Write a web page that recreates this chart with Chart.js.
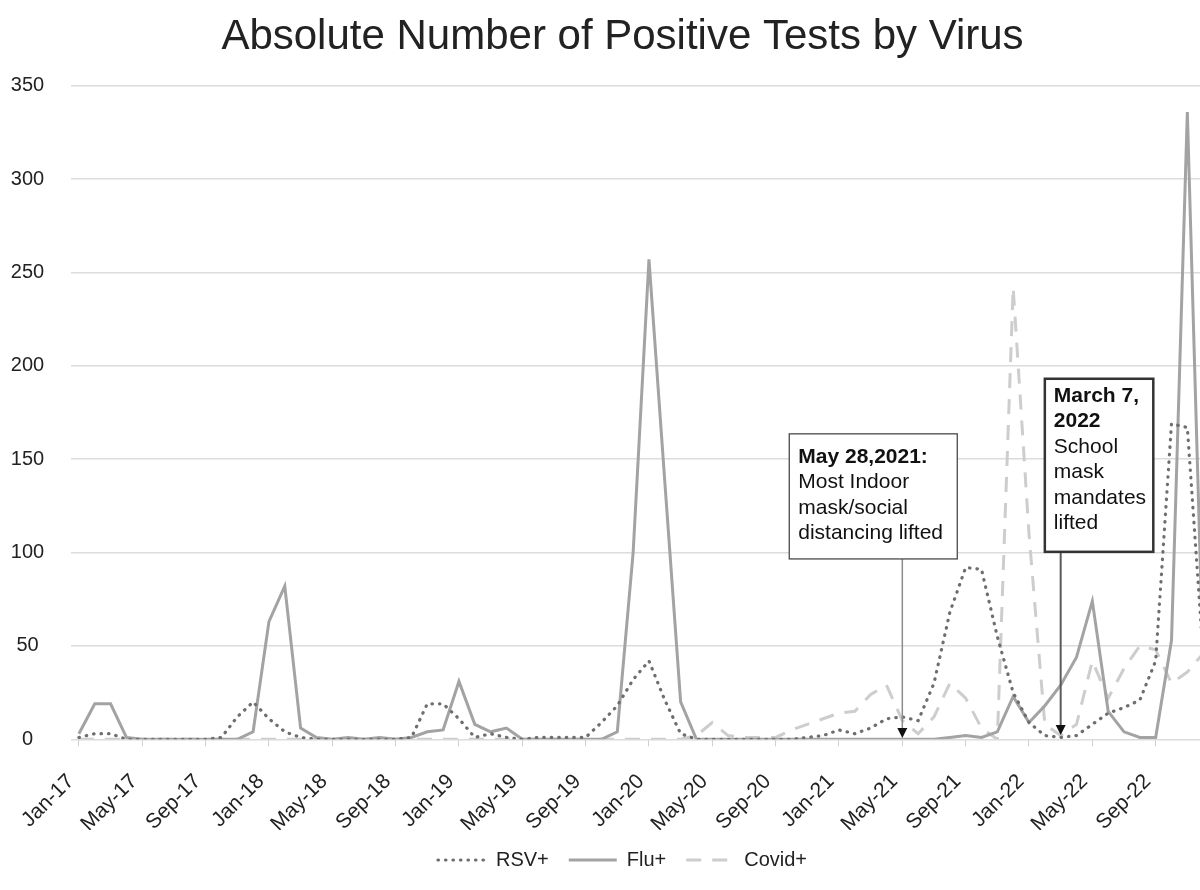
<!DOCTYPE html>
<html>
<head>
<meta charset="utf-8">
<script src="https://cdn.jsdelivr.net/npm/chart.js@4.4.1/dist/chart.umd.min.js"></script>
<style>
  html, body { margin: 0; padding: 0; background: #fff; overflow: hidden; }
  /* wider than the window on purpose: the last month runs off the right edge like the original */
  #wrap { position: relative; width: 1244px; height: 890px; }
</style>
</head>
<body>
<div id="wrap"><canvas id="virusChart"></canvas></div>
<script>
// monthly categories, Jan-17 .. Dec-22
var months = [
    'Jan-17','Feb-17','Mar-17','Apr-17','May-17','Jun-17','Jul-17','Aug-17','Sep-17','Oct-17','Nov-17','Dec-17',
    'Jan-18','Feb-18','Mar-18','Apr-18','May-18','Jun-18','Jul-18','Aug-18','Sep-18','Oct-18','Nov-18','Dec-18',
    'Jan-19','Feb-19','Mar-19','Apr-19','May-19','Jun-19','Jul-19','Aug-19','Sep-19','Oct-19','Nov-19','Dec-19',
    'Jan-20','Feb-20','Mar-20','Apr-20','May-20','Jun-20','Jul-20','Aug-20','Sep-20','Oct-20','Nov-20','Dec-20',
    'Jan-21','Feb-21','Mar-21','Apr-21','May-21','Jun-21','Jul-21','Aug-21','Sep-21','Oct-21','Nov-21','Dec-21',
    'Jan-22','Feb-22','Mar-22','Apr-22','May-22','Jun-22','Jul-22','Aug-22','Sep-22','Oct-22','Nov-22','Dec-22'
];

// only every 4th month gets a label on the axis
var tickLabels = ['Jan-17','May-17','Sep-17','Jan-18','May-18','Sep-18','Jan-19','May-19','Sep-19',
    'Jan-20','May-20','Sep-20','Jan-21','May-21','Sep-21','Jan-22','May-22','Sep-22'];

var rsvPos = [
    1, 3, 3, 0, 0, 0, 0, 0, 0, 1, 12, 20,
    11, 4, 1, 0, 0, 0, 0, 0, 0, 1, 19, 19,
    11, 1, 3, 1, 0, 1, 1, 1, 1, 9, 18, 32,
    42, 21, 3, 0, 0, 0, 0, 0, 0, 0, 1, 2,
    5, 3, 6, 11, 12, 10, 30, 68, 92, 91, 55, 25,
    9, 2, 1, 2, 8, 14, 17, 21, 42, 169, 167, 45
];

var fluPos = [
    3, 19, 19, 1, 0, 0, 0, 0, 0, 0, 0, 4,
    63, 82, 6, 1, 0, 1, 0, 1, 0, 1, 4, 5,
    31, 8, 4, 6, 0, 0, 0, 0, 0, 0, 4, 100,
    257, 138, 20, 0, 0, 0, 0, 0, 0, 0, 0, 0,
    0, 0, 0, 0, 0, 0, 0, 1, 2, 1, 4, 23,
    9, 18, 29, 44, 74, 15, 4, 1, 1, 53, 336, 40
];

var covidPos = [
    0, 0, 0, 0, 0, 0, 0, 0, 0, 0, 0, 0,
    0, 0, 0, 0, 0, 0, 0, 0, 0, 0, 0, 0,
    0, 0, 0, 0, 0, 0, 0, 0, 0, 0, 0, 0,
    0, 0, 0, 2, 9, 2, 1, 1, 1, 5, 8, 11,
    14, 15, 24, 29, 10, 3, 12, 30, 22, 6, 0, 242,
    110, 8, 2, 8, 42, 22, 38, 50, 48, 30, 36, 46
];

// callout boxes: x in category index units, y in chart values
var callouts = [
    { at: 52, tip: 0.7, from: 44.86, to: 55.47, top: 163.6, bottom: 96.6, firstLine: 29,
      bold: ['May 28,2021:'], text: ['Most Indoor', 'mask/social', 'distancing lifted'],
      border: 1.3, borderColor: '#4a4a4a', stem: '#8c8c8c', stemWidth: 1.5 },
    { at: 62, tip: 2.3, from: 61.0, to: 67.85, top: 193.1, bottom: 100.4, firstLine: 23,
      bold: ['March 7,', '2022'], text: ['School', 'mask', 'mandates', 'lifted'],
      border: 2.5, borderColor: '#333', stem: '#5a5a5a', stemWidth: 2 }
];

var FONT = '"Liberation Sans", Arial, Helvetica, sans-serif';

var calloutPlugin = {
    id: 'callouts',
    afterDatasetsDraw: function(chart){
        var ctx = chart.ctx;
        var xs = chart.scales.x, ys = chart.scales.y;
        callouts.forEach(function(c){
            var left = xs.getPixelForValue(c.from), right = xs.getPixelForValue(c.to);
            var top = ys.getPixelForValue(c.top), bottom = ys.getPixelForValue(c.bottom);
            var ax = xs.getPixelForValue(c.at), tipY = ys.getPixelForValue(c.tip);
            ctx.save();
            // stem + arrow head
            ctx.strokeStyle = c.stem;
            ctx.lineWidth = c.stemWidth;
            ctx.beginPath();
            ctx.moveTo(ax, bottom);
            ctx.lineTo(ax, tipY - 8);
            ctx.stroke();
            ctx.fillStyle = '#111';
            ctx.beginPath();
            ctx.moveTo(ax - 5, tipY - 10);
            ctx.lineTo(ax + 5, tipY - 10);
            ctx.lineTo(ax, tipY);
            ctx.closePath();
            ctx.fill();
            // box
            ctx.fillStyle = '#fff';
            ctx.fillRect(left, top, right - left, bottom - top);
            ctx.strokeStyle = c.borderColor;
            ctx.lineWidth = c.border;
            ctx.strokeRect(left, top, right - left, bottom - top);
            // text
            ctx.fillStyle = '#111';
            ctx.textAlign = 'left';
            ctx.textBaseline = 'alphabetic';
            var y = top + c.firstLine;
            ctx.font = 'bold 21px ' + FONT;
            c.bold.forEach(function(t){ ctx.fillText(t, left + 9, y); y += 25.5; });
            ctx.font = '21px ' + FONT;
            c.text.forEach(function(t){ ctx.fillText(t, left + 9, y); y += 25.5; });
            ctx.restore();
        });
    }
};

// legend keys take dash/width from the dataset line, not from the point
function legendItems(chart){
    var items = Chart.defaults.plugins.legend.labels.generateLabels(chart);
    items.forEach(function(it){
        var ds = chart.data.datasets[it.datasetIndex];
        it.pointStyle = 'line';
        it.strokeStyle = ds.borderColor;
        it.fillStyle = ds.borderColor;
        it.lineWidth = ds.borderWidth;
        it.lineDash = ds.borderDash || [];
        it.lineCap = ds.borderCapStyle || 'butt';
    });
    return items;
}

var virusChart = new Chart(document.getElementById('virusChart'), {
    type: 'line',
    data: {
        labels: months,
        datasets: [{
            label: 'RSV+',
            data: rsvPos,
            borderColor: '#6e6e6e',
            borderWidth: 3.2,
            borderDash: [0.5, 7],
            borderCapStyle: 'round',
            pointRadius: 0,
            tension: 0,
            fill: false
        }, {
            label: 'Flu+',
            data: fluPos,
            borderColor: '#a3a3a3',
            borderWidth: 3,
            pointRadius: 0,
            tension: 0,
            fill: false
        }, {
            label: 'Covid+',
            data: covidPos,
            borderColor: '#cdcdcd',
            borderWidth: 3,
            borderDash: [15, 11],
            pointRadius: 0,
            tension: 0,
            fill: false
        }]
    },
    options: {
        responsive: true,
        maintainAspectRatio: false,
        animation: false,
        layout: { padding: { left: 1, right: 0, top: 0, bottom: 10 } },
        plugins: {
            title: {
                display: true,
                text: 'Absolute Number of Positive Tests by Virus',
                color: '#222',
                font: { family: FONT, size: 42, weight: 'normal' },
                padding: { top: 12, bottom: 23.4 }
            },
            legend: {
                position: 'bottom',
                labels: {
                    usePointStyle: true,
                    pointStyleWidth: 48,
                    boxHeight: 20,
                    padding: 20,
                    color: '#222',
                    font: { family: FONT, size: 20 },
                    generateLabels: legendItems
                }
            },
            tooltip: { enabled: false }
        },
        scales: {
            x: {
                offset: true,
                grid: {
                    display: true,
                    drawOnChartArea: false,
                    drawTicks: true,
                    tickLength: 7,
                    color: function(c){ return c.index % 4 === 0 ? '#d0d0d0' : 'rgba(0,0,0,0)'; }
                },
                border: { display: false },
                ticks: {
                    autoSkip: false,
                    maxRotation: 45,
                    minRotation: 45,
                    padding: 23,
                    labelOffset: -8,
                    color: '#222',
                    font: { family: FONT, size: 21 },
                    callback: function(val, i){
                        var m = months[i];
                        return tickLabels.indexOf(m) >= 0 ? m : '';
                    }
                },
                afterFit: function(scale){ scale.height = 90.7; }
            },
            y: {
                min: 0,
                max: 350,
                grid: { color: '#dcdcdc', lineWidth: 1.5, drawTicks: false },
                border: { display: false },
                ticks: {
                    stepSize: 50,
                    crossAlign: 'center',
                    padding: 26.8,
                    color: '#222',
                    font: { family: FONT, size: 20 }
                },
                afterFit: function(scale){ scale.width = 70; }
            }
        }
    },
    plugins: [calloutPlugin]
});
</script>
</body>
</html>
